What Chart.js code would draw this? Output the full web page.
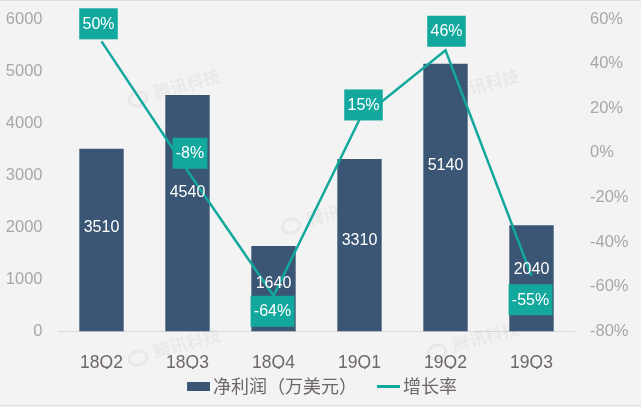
<!DOCTYPE html>
<html>
<head>
<meta charset="utf-8">
<style>
html, body { margin: 0; padding: 0; background: #f3f3f3; }
canvas { display: block; }
</style>
<script src="https://cdn.jsdelivr.net/npm/chart.js@4"></script>
</head>
<body>
<canvas id="profitChart" width="641" height="407"></canvas>
<script>
const quarters = ['18Q2', '18Q3', '18Q4', '19Q1', '19Q2', '19Q3'];
const netProfit = [3510, 4540, 1640, 3310, 5140, 2040];
const growthRate = [50, -8, -64, 15, 46, -55];

const latinFont = '"Liberation Sans", Arial, sans-serif';
const cjkFont = '"Noto Sans CJK SC", "Liberation Sans", sans-serif';
const barColor = '#3b5674';
const tealColor = '#12a89d';

// where the reference puts its labels, relative to the mark they belong to
const barLabelShift = [-13, -21, -5, -5, -32, -9];
const rateBoxShift = [[-3, -17.5], [2.5, -17.5], [-1, 15.5], [4, -14.5], [1, -19], [-1, 24]];

// legend swatches, wider than the legend box so they sit close to the text
function makeSwatch(height, color) {
    const c = document.createElement('canvas');
    c.width = 32;
    c.height = height;
    const g = c.getContext('2d');
    g.fillStyle = color;
    g.fillRect(9, 0, 23, height);
    return c;
}
const swatches = [makeSwatch(9, barColor), makeSwatch(3, tealColor)];

// tick padding would otherwise push the plot area down
function fitValueAxis(width) {
    return s => {
        s.width = width;
        s.paddingTop = 0;
        s.paddingBottom = 0;
    };
}

const pagePlugin = {
    id: 'page',
    beforeDraw(chart) {
        const ctx = chart.ctx;
        ctx.save();
        ctx.fillStyle = '#f3f3f3';
        ctx.fillRect(0, 0, chart.width, chart.height);
        ctx.fillStyle = '#dfdfdf';
        ctx.fillRect(0, 0, chart.width, 1);
        ctx.fillRect(0, 405, chart.width, 1);
        ctx.restore();
    },
    beforeDatasetsDraw(chart) {
        // faint site watermarks
        const ctx = chart.ctx;
        const marks = [[138, 99], [291, 226], [437, 99], [138, 358], [437, 352]];
        ctx.save();
        ctx.font = 'bold 17px ' + cjkFont;
        ctx.textBaseline = 'middle';
        marks.forEach(([x, y]) => {
            ctx.save();
            ctx.translate(x, y);
            ctx.rotate(-0.26);
            ctx.strokeStyle = 'rgba(0,0,0,0.045)';
            ctx.lineWidth = 3;
            ctx.beginPath();
            ctx.ellipse(0, 0, 9, 7, 0, 0, Math.PI * 2);
            ctx.stroke();
            ctx.fillStyle = 'rgba(0,0,0,0.045)';
            ctx.fillText('腾讯科技', 17, -2);
            ctx.restore();
        });
        ctx.restore();
    },
    afterDatasetsDraw(chart) {
        const ctx = chart.ctx;
        const xScale = chart.scales.x;
        const yLeft = chart.scales.y;
        const yRight = chart.scales.y1;
        ctx.save();
        ctx.textAlign = 'center';
        ctx.textBaseline = 'middle';
        ctx.font = '16px ' + latinFont;

        netProfit.forEach((v, i) => {
            const top = yLeft.getPixelForValue(v);
            const mid = (top + yLeft.getPixelForValue(0)) / 2;
            ctx.fillStyle = '#ffffff';
            ctx.fillText(String(v), xScale.getPixelForValue(i), mid + barLabelShift[i]);
        });

        growthRate.forEach((v, i) => {
            const text = v + '%';
            const w = ctx.measureText(text).width + 6.5;
            const cx = xScale.getPixelForValue(i) + rateBoxShift[i][0];
            const cy = yRight.getPixelForValue(v) + rateBoxShift[i][1];
            ctx.fillStyle = tealColor;
            ctx.fillRect(cx - w / 2, cy - 15.5, w, 31);
            ctx.fillStyle = '#ffffff';
            ctx.fillText(text, cx, cy + 0.5);
        });
        ctx.restore();
    }
};

new Chart(document.getElementById('profitChart').getContext('2d'), {
    data: {
        labels: quarters,
        datasets: [
            {
                type: 'bar',
                label: '净利润（万美元）',
                data: netProfit,
                yAxisID: 'y',
                backgroundColor: barColor,
                barPercentage: 0.516,
                categoryPercentage: 1,
                order: 2
            },
            {
                type: 'line',
                label: '增长率',
                data: growthRate,
                yAxisID: 'y1',
                borderColor: tealColor,
                borderWidth: 2.5,
                pointRadius: 0,
                tension: 0,
                order: 1
            }
        ]
    },
    options: {
        responsive: false,
        animation: false,
        layout: { padding: { top: 19, bottom: 2, left: 0, right: 0 } },
        scales: {
            x: {
                grid: { display: false, drawTicks: false },
                border: { color: '#d9d9d9' },
                afterFit(s) { s.height = 37.5; },
                ticks: {
                    padding: 21,
                    color: '#6d6866',
                    font: { family: latinFont, size: 17.5 },
                    maxRotation: 0
                }
            },
            y: {
                position: 'left',
                min: 0,
                max: 6000,
                grid: { display: false, drawTicks: false },
                border: { display: false },
                afterFit: fitValueAxis(58.5),
                ticks: {
                    stepSize: 1000,
                    padding: 16,
                    color: '#aaa6a4',
                    font: { family: latinFont, size: 16.5 },
                    callback: v => String(v)
                }
            },
            y1: {
                position: 'right',
                min: -80,
                max: 60,
                grid: { display: false, drawTicks: false },
                border: { display: false },
                afterFit: fitValueAxis(66.5),
                ticks: {
                    stepSize: 20,
                    padding: 15.5,
                    color: '#aaa6a4',
                    font: { family: latinFont, size: 16.5 },
                    callback: v => v + '%'
                }
            }
        },
        plugins: {
            tooltip: { enabled: false },
            legend: {
                position: 'bottom',
                labels: {
                    usePointStyle: true,
                    pointStyleWidth: 20,
                    boxHeight: 18,
                    padding: 8,
                    color: '#6d6866',
                    font: { family: cjkFont, size: 18 },
                    sort: (a, b) => a.datasetIndex - b.datasetIndex,
                    generateLabels(chart) {
                        return Chart.defaults.plugins.legend.labels.generateLabels(chart).map(item => {
                            item.pointStyle = swatches[item.datasetIndex];
                            if (item.datasetIndex === 0) item.text += '\u2002';
                            return item;
                        });
                    }
                }
            }
        }
    },
    plugins: [pagePlugin]
});
</script>
</body>
</html>
